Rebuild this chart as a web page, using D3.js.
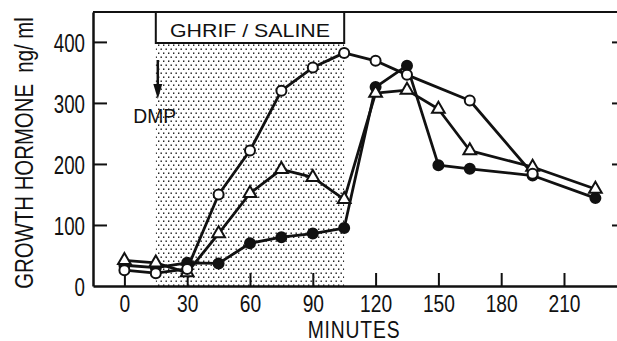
<!DOCTYPE html>
<html>
<head>
<meta charset="utf-8">
<script src="https://cdn.jsdelivr.net/npm/d3@7"></script>
<style>
  html, body { margin: 0; padding: 0; background: #fff; }
  svg { display: block; }
  text { font-family: 'Liberation Sans', Arial, sans-serif; fill: #111; }
</style>
</head>
<body>
<svg id="chart" width="617" height="341"></svg>
<script>
// ---- data ----
const xTicks = [0, 30, 60, 90, 120, 150, 180, 210];
const yTicks = [0, 100, 200, 300, 400];
const openMinutes = [0, 15, 30, 45, 60, 75, 90, 105, 120, 135, 165, 195];
const openValues  = [26, 21, 28, 150, 222, 320, 358, 382, 369, 346, 304, 184];
const triMinutes  = [0, 15, 30, 45, 60, 75, 90, 105, 120, 135, 150, 165, 195, 225];
const triValues   = [42, 38, 22, 86, 152, 191, 178, 142, 316, 321, 290, 222, 195, 159];
const fillMinutes = [0, 15, 30, 45, 60, 75, 90, 105, 120, 135, 150, 165, 195, 225];
const fillValues  = [34, 30, 38, 37, 70, 80, 86, 95, 326, 361, 198, 192, 181, 144];
const infusion = [15, 105];   // GHRIF / SALINE period (minutes)
const dmpMinute = 15;
const infusionLabel = "GHRIF / SALINE";
const dmpLabel = "DMP";
const xLabel = "MINUTES";
const yLabel = "GROWTH HORMONE  ng/ ml";

// ---- layout ----
const svg = d3.select("#chart");
const L = 93, R = 618, T = 12, B = 286;
const x = d3.scaleLinear().domain([-15, 235.8]).range([L, R]);
const y = d3.scaleLinear().domain([0, 449]).range([B, T]);
const ink = "#111";

// dotted pattern
const defs = svg.append("defs");
const pat = defs.append("pattern").attr("id", "dots").attr("patternUnits", "userSpaceOnUse")
  .attr("width", 5).attr("height", 8);
pat.append("rect").attr("x", 0.5).attr("y", 0.5).attr("width", 1.4).attr("height", 1.4).attr("fill", ink);
pat.append("rect").attr("x", 3).attr("y", 4.5).attr("width", 1.4).attr("height", 1.4).attr("fill", ink);

// shaded infusion region
svg.append("rect")
  .attr("x", x(infusion[0])).attr("y", T + 31)
  .attr("width", x(infusion[1]) - x(infusion[0])).attr("height", B - T - 31)
  .attr("fill", "url(#dots)");

// infusion label box
svg.append("rect")
  .attr("x", x(infusion[0])).attr("y", T)
  .attr("width", x(infusion[1]) - x(infusion[0])).attr("height", 31)
  .attr("fill", "#fff").attr("stroke", ink).attr("stroke-width", 2);
svg.append("text")
  .attr("x", (x(infusion[0]) + x(infusion[1])) / 2).attr("y", T + 25)
  .attr("text-anchor", "middle").style("font-size", "18px")
  .attr("textLength", 160).attr("lengthAdjust", "spacingAndGlyphs")
  .text(infusionLabel);

// DMP arrow
const ax = x(dmpMinute) + 2;
svg.append("line").attr("x1", ax).attr("x2", ax).attr("y1", 60).attr("y2", 88)
  .attr("stroke", ink).attr("stroke-width", 2.5);
svg.append("path").attr("d", `M${ax - 4.5},84 L${ax + 4.5},84 L${ax},99 Z`).attr("fill", ink);
svg.append("text").attr("transform", `translate(${ax - 3},123) scale(0.92,1)`).attr("text-anchor", "middle")
  .style("font-size", "21px")
  .text(dmpLabel);

// axes
const xAxis = svg.append("g").attr("transform", `translate(0,${B})`)
  .call(d3.axisBottom(x).tickValues(xTicks).tickSizeInner(-13).tickSizeOuter(0).tickPadding(20));
const yAxis = svg.append("g").attr("transform", `translate(${L},0)`)
  .call(d3.axisLeft(y).tickValues(yTicks).tickSizeInner(-14).tickSizeOuter(0).tickPadding(22));
const yAxisR = svg.append("g").attr("transform", `translate(${R},0)`)
  .call(d3.axisRight(y).tickValues(yTicks.slice(1)).tickSizeInner(-6).tickSizeOuter(0).tickFormat(""));
[xAxis, yAxis, yAxisR].forEach(g => {
  g.select(".domain").attr("stroke", ink).attr("stroke-width", 2.5);
  g.selectAll(".tick line").attr("stroke", ink).attr("stroke-width", 2);
  g.selectAll(".tick text").attr("fill", ink)
    .style("font-family", "'Liberation Sans', Arial, sans-serif");
});
yAxis.selectAll(".tick line").filter(d => d === 0).remove();
xAxis.selectAll(".tick text").style("font-size", "24px").attr("transform", "scale(0.8,1)")
  .attr("dy", "0").attr("y", 26);
yAxis.selectAll(".tick text").style("font-size", "26px").attr("transform", "scale(0.72,1)")
  .attr("x", -8 / 0.72).attr("dy", "0.36em");
// top frame line
svg.append("line").attr("x1", L).attr("x2", R).attr("y1", T).attr("y2", T)
  .attr("stroke", ink).attr("stroke-width", 2);

// axis titles
svg.append("text").attr("transform", "translate(354,338) scale(0.84,1)").attr("text-anchor", "middle")
  .style("font-size", "23px").style("letter-spacing", "1px")
  .text(xLabel);
svg.append("text").attr("transform", "translate(33,153) rotate(-90) scale(0.815,1)").attr("text-anchor", "middle")
  .style("font-size", "25px").style("white-space", "pre")
  .text(yLabel);

// series
const series = [
  { xs: fillMinutes, ys: fillValues, kind: "filled" },
  { xs: triMinutes, ys: triValues, kind: "triangle" },
  { xs: openMinutes, ys: openValues, kind: "open" }
];
const line = d3.line().x(d => x(d[0])).y(d => y(d[1]));
series.forEach(s => {
  const pts = s.xs.map((m, i) => [m, s.ys[i]]);
  svg.append("path").datum(pts).attr("d", line)
    .attr("fill", "none").attr("stroke", ink).attr("stroke-width", 2.8).attr("stroke-linejoin", "round");
});
const tri = d3.symbol().type(d3.symbolTriangle).size(70);
series.forEach(s => {
  const pts = s.xs.map((m, i) => [m, s.ys[i]]);
  const g = svg.append("g");
  if (s.kind === "triangle") {
    g.selectAll("path").data(pts).join("path")
      .attr("d", tri).attr("transform", d => `translate(${x(d[0])},${y(d[1])})`)
      .attr("fill", "#fff").attr("stroke", ink).attr("stroke-width", 2);
  } else {
    g.selectAll("circle").data(pts).join("circle")
      .attr("cx", d => x(d[0])).attr("cy", d => y(d[1])).attr("r", 5)
      .attr("fill", s.kind === "filled" ? ink : "#fff").attr("stroke", ink).attr("stroke-width", 2);
  }
});
</script>
</body>
</html>
